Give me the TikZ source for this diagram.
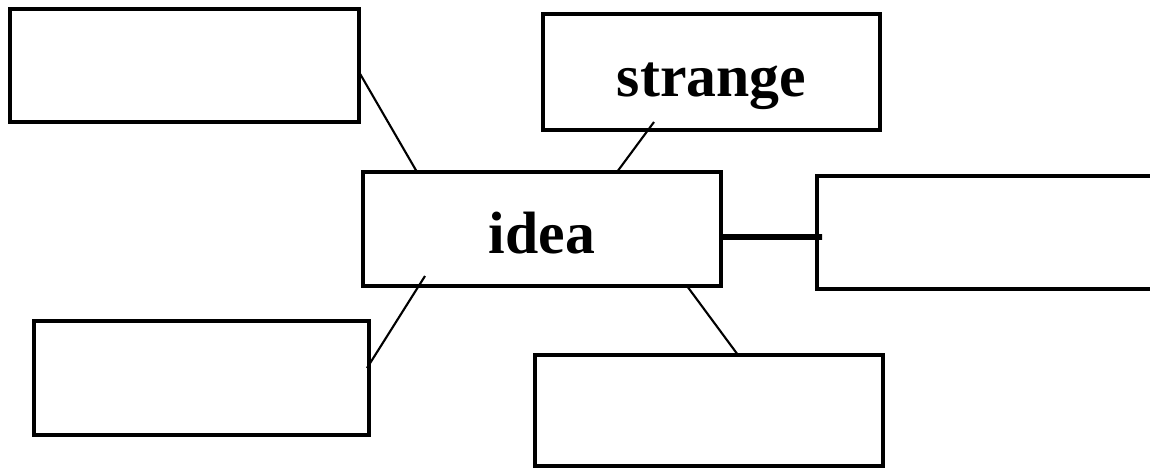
\documentclass[tikz,border=0pt]{standalone}
\usepackage{fontspec}
\setmainfont{Liberation Serif}
\usepackage{tikz}
\usetikzlibrary{positioning,calc}

\tikzset{
    wordbox/.style={draw, line width=2pt, inner sep=0pt, outer sep=0pt, minimum height=2.28cm,
        font=\fontsize{34}{36}\selectfont\bfseries, text height=1.1cm, text depth=0.12cm},
    link/.style={line width=1.2pt},
    boldlink/.style={line width=3.4pt}
}

\begin{document}
\begin{tikzpicture}
    \useasboundingbox (0,0) rectangle (23,-9.4);

    % Boxes
    \node[wordbox, minimum width=6.98cm, minimum height=2.26cm] (topleft) at (3.69,-1.31) {};
    \node[wordbox, minimum width=6.74cm, minimum height=2.32cm] (strange) at (14.23,-1.44) {strange};
    \node[wordbox, minimum width=7.16cm] (idea) at (10.84,-4.58) {idea};
    \node[wordbox, minimum width=6.86cm, minimum height=2.26cm] (right) at (19.77,-4.65) {};
    \node[wordbox, minimum width=6.70cm] (botleft) at (4.03,-7.56) {};
    \node[wordbox, minimum width=6.96cm, minimum height=2.22cm] (botmid) at (14.18,-8.21) {};

    % Links to idea
    \draw[link] ([yshift=-0.13cm]topleft.east) -- ([xshift=1.08cm]idea.north west);
    \draw[link] ([xshift=-1.15cm,yshift=0.16cm]strange.south) -- ([xshift=1.5cm]idea.north);
    \draw[boldlink] ([yshift=-0.16cm]idea.east) -- ([xshift=0.1cm,yshift=-0.09cm]right.west);
    \draw[link] ([xshift=1.24cm,yshift=0.2cm]idea.south west) -- ([xshift=-0.04cm,yshift=0.2cm]botleft.east);
    \draw[link] ([xshift=-0.68cm]idea.south east) -- ([xshift=0.58cm]botmid.north);
\end{tikzpicture}
\end{document}
